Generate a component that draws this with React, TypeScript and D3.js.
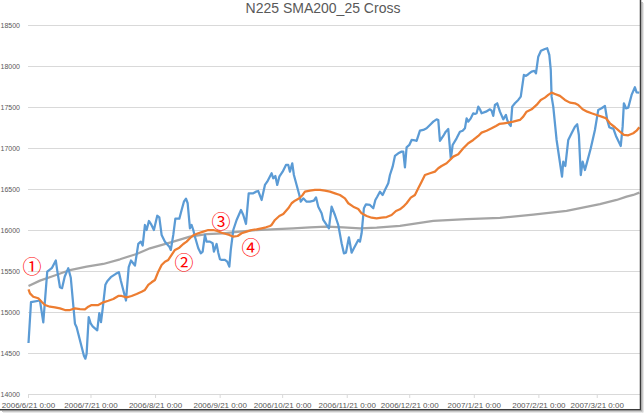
import React from "react";
import * as d3 from "d3";

const W = 644;
const H = 413;

const title = "N225 SMA200_25 Cross";
const yTicks = [14000, 14500, 15000, 15500, 16000, 16500, 17000, 17500, 18000, 18500];
const tickLabels = [
  "2006/6/21 0:00", "2006/7/21 0:00", "2006/8/21 0:00", "2006/9/21 0:00", "2006/10/21 0:00",
  "2006/11/21 0:00", "2006/12/21 0:00", "2007/1/21 0:00", "2007/2/21 0:00", "2007/3/21 0:00",
];
const lastDay = 293.2; // days after 2006/6/21

// day offsets from 2006/6/21 and closing values (blue)
const priceDays = [
  0, 1.2, 5.5, 7.1, 9.0, 11.3, 13.1, 13.8, 15.1, 16.1, 17.4, 19.1, 20.3, 22.3, 23.1, 26.6, 27.3, 27.9, 28.9, 29.9,
  30.8, 33.0, 34.0, 34.8, 35.6, 36.9, 37.8, 39.5, 41.9, 43.4, 44.3, 46.8, 48.1, 49.2, 51.1, 52.7, 53.9, 54.8, 55.9, 56.7,
  57.8, 58.8, 60.2, 61.8, 62.8, 63.9, 65.5, 67.6, 68.3, 69.5, 70.5, 72.4, 73.5, 74.6, 75.6, 76.4, 77.5, 78.3, 79.1, 79.9,
  81.5, 82.7, 83.6, 84.7, 85.5, 87.1, 88.4, 89.0, 90.3, 91.1, 91.9, 92.7, 94.3, 95.4, 96.4, 97.1, 98.3, 99.9, 102.0, 103.1,
  104.4, 105.7, 107.9, 109.2, 110.3, 111.9, 113.5, 114.6, 116.7, 117.5, 118.5, 119.4, 120.4, 122.0, 123.6, 124.7, 125.5, 126.6, 127.4, 128.7,
  130.0, 130.7, 131.9, 133.5, 135.1, 137.0, 138.0, 139.1, 140.7, 141.5, 143.1, 144.2, 145.5, 147.1, 148.7, 150.3, 151.4, 152.4, 153.8, 155.1,
  156.2, 158.3, 159.1, 159.9, 161.0, 162.0, 163.9, 165.5, 166.5, 167.4, 168.7, 170.0, 171.1, 172.7, 173.5, 174.8, 175.9, 177.5, 179.1, 179.9,
  180.7, 181.5, 182.8, 183.9, 185.5, 186.3, 187.9, 189.5, 191.1, 192.7, 194.3, 195.9, 196.7, 197.5, 199.1, 200.3, 201.5, 202.7, 203.1, 203.6,
  205.5, 207.1, 208.4, 209.5, 210.3, 211.1, 212.3, 213.5, 214.3, 215.1, 215.9, 216.7, 217.5, 219.6, 221.5, 222.3, 223.1, 223.9, 225.0, 226.3,
  227.9, 229.2, 229.8, 230.8, 231.5, 232.2, 233.5, 235.1, 236.3, 237.8, 238.8, 239.9, 241.5, 242.8, 243.6, 244.7, 246.0, 247.9, 249.0, 250.0,
  250.7, 251.1, 251.9, 253.5, 254.8, 256.1, 256.7, 257.7, 259.1, 260.7, 262.3, 263.4, 264.2, 265.1, 266.0, 267.1, 268.2, 269.9, 271.9, 273.5,
  275.1, 276.7, 277.8, 278.8, 279.9, 280.7, 282.0, 284.3, 285.2, 285.8, 286.8, 287.9, 289.5, 291.1, 291.9, 293.2,
];
const priceValues = [
  14625, 15123, 15143, 14876, 15496, 15541, 15630, 15508, 15305, 15293, 15435, 15537, 15420, 14860, 14818, 14470, 14434, 14495, 14940, 14860,
  14827, 14779, 14990, 14880, 15042, 15334, 15378, 15427, 15468, 15488, 15387, 15143, 15549, 15630, 15569, 15833, 15861, 15812, 16063, 16002,
  16112, 16075, 16002, 16176, 16157, 15942, 15860, 15799, 15759, 15942, 16140, 16140, 16246, 16347, 16384, 16328, 16023, 16063, 16002, 15920,
  15779, 15718, 15738, 15942, 15860, 15860, 15840, 15738, 15832, 15726, 15645, 15637, 15637, 15616, 15555, 15759, 16002, 16124, 16246, 16185,
  16075, 16449, 16449, 16469, 16477, 16368, 16551, 16591, 16693, 16632, 16660, 16551, 16652, 16713, 16795, 16795, 16713, 16815, 16672, 16551,
  16429, 16347, 16388, 16347, 16347, 16359, 16400, 16286, 16205, 16124, 16063, 16023, 16286, 16185, 16063, 15840, 15718, 15726, 15913, 15726,
  15779, 15880, 15860, 15962, 16267, 16315, 16307, 16267, 16368, 16408, 16469, 16429, 16490, 16571, 16672, 16774, 16904, 16937, 16957, 16957,
  16766, 17010, 17038, 17099, 17095, 17087, 17212, 17221, 17241, 17282, 17322, 17351, 17343, 17087, 17148, 17200, 17233, 16876, 16937, 17038,
  17119, 17200, 17212, 17241, 17363, 17322, 17363, 17424, 17416, 17424, 17505, 17473, 17424, 17444, 17473, 17456, 17392, 17526, 17546, 17444,
  17351, 17404, 17343, 17290, 17270, 17505, 17546, 17587, 17627, 17892, 17880, 17900, 17932, 17940, 17912, 18114, 18187, 18208, 18217, 18135,
  17952, 17627, 17505, 17099, 16876, 16652, 16835, 16782, 17099, 17181, 17261, 17290, 17160, 16672, 16835, 16733, 16835, 16998, 17221, 17465,
  17485, 17513, 17343, 17254, 17241, 17241, 17148, 17026, 17261, 17546, 17485, 17493, 17648, 17741, 17680, 17676,
];

// 25-day moving average (orange)
const sma25Days = [
  0, 0.7, 2.3, 4.7, 6.3, 7.9, 10.3, 12.7, 15.1, 17.5, 19.9, 22.3, 24.7, 27.1, 28.7, 30.3, 33.5, 35.9, 38.3, 40.7,
  43.1, 44.7, 47.1, 49.5, 51.9, 54.3, 55.9, 57.5, 59.1, 60.7, 62.3, 63.9, 65.5, 67.1, 68.7, 70.3, 72.4, 74.3, 75.9, 77.5,
  79.1, 81.5, 83.9, 86.3, 88.7, 90.6, 92.7, 94.8, 96.4, 98.3, 100.4, 102.3, 104.7, 107.1, 109.5, 111.9, 114.0, 115.9, 116.7, 118.3,
  120.4, 122.3, 124.7, 126.3, 127.9, 130.0, 131.6, 132.7, 135.1, 137.5, 139.9, 142.3, 144.7, 147.1, 149.5, 151.9, 153.5, 155.9, 158.3, 159.9,
  162.3, 164.7, 167.1, 169.5, 171.9, 174.3, 176.4, 178.3, 179.9, 181.5, 183.5, 185.5, 187.1, 188.7, 190.3, 192.7, 195.1, 196.7, 198.3, 200.7,
  202.3, 203.9, 206.3, 208.7, 211.1, 213.5, 215.9, 217.5, 219.9, 222.3, 224.4, 226.0, 228.2, 230.3, 232.7, 235.9, 237.5, 239.1, 241.5, 243.9,
  245.9, 247.9, 249.5, 251.1, 252.7, 255.1, 257.5, 259.9, 262.3, 263.9, 266.0, 268.2, 270.3, 272.7, 275.1, 277.2, 279.1, 281.5, 283.9, 285.8,
  287.9, 290.3, 291.9, 293.2,
];
const sma25Values = [
  15279, 15230, 15189, 15170, 15128, 15088, 15067, 15060, 15047, 15027, 15027, 15047, 15039, 15035, 15067, 15088, 15088, 15121, 15140, 15161,
  15198, 15198, 15182, 15198, 15222, 15250, 15271, 15332, 15365, 15393, 15494, 15576, 15616, 15637, 15698, 15759, 15787, 15832, 15860, 15901,
  15938, 15962, 15982, 16002, 16002, 15990, 15969, 15953, 15942, 15921, 15929, 15962, 15982, 16002, 16010, 16023, 16035, 16051, 16063, 16124,
  16173, 16197, 16267, 16328, 16359, 16388, 16429, 16469, 16481, 16490, 16490, 16481, 16469, 16449, 16429, 16388, 16328, 16286, 16258, 16205,
  16173, 16152, 16144, 16152, 16160, 16185, 16234, 16254, 16286, 16328, 16396, 16429, 16510, 16591, 16672, 16693, 16713, 16754, 16782, 16815,
  16855, 16896, 16925, 16998, 17059, 17099, 17148, 17188, 17212, 17241, 17270, 17294, 17302, 17310, 17322, 17343, 17383, 17444, 17473, 17526,
  17587, 17615, 17648, 17676, 17660, 17636, 17587, 17554, 17546, 17526, 17473, 17444, 17424, 17404, 17383, 17363, 17302, 17254, 17200, 17160,
  17156, 17181, 17212, 17254,
];

// 200-day moving average (gray)
const sma200Days = [
  0, 5.5, 11.9, 19.9, 27.9, 35.9, 43.9, 51.9, 58.3, 69.5, 77.5, 85.5, 93.5, 101.5, 109.5, 119.1, 127.1, 135.1, 143.1, 151.1,
  159.1, 167.1, 178.3, 194.3, 210.3, 226.3, 242.3, 258.3, 274.3, 282.3, 287.1, 290.3, 293.2,
];
const sma200Values = [
  15320, 15385, 15441, 15514, 15555, 15588, 15645, 15710, 15779, 15860, 15921, 15953, 15962, 15982, 16002, 16014, 16023, 16035, 16043, 16035,
  16023, 16031, 16051, 16112, 16136, 16150, 16190, 16235, 16318, 16368, 16408, 16429, 16457,
];

const markLabels = ["①", "②", "③", "④"];
const markDays = [1.7, 74.6, 92.4, 106.8];
const markValues = [15570, 15620, 16120, 15795];

const colors = { price: "#5B9BD5", sma25: "#ED7D31", sma200: "#A5A5A5" };

export default function App() {
  const x = d3.scaleLinear().domain([0, lastDay]).range([28.5, 639.3]);
  const y = d3.scaleLinear().domain([14000, 18500]).range([394.3, 25]);
  const start = new Date(2006, 5, 21);
  const tickDays = tickLabels.map((t) => {
    const [datePart] = t.split(" ");
    const [yy, mm, dd] = datePart.split("/").map(Number);
    return Math.round((new Date(yy, mm - 1, dd).getTime() - start.getTime()) / 864e5);
  });

  const line = d3
    .line<[number, number]>()
    .x((d) => x(d[0]))
    .y((d) => y(d[1]));
  const zip = (a: number[], b: number[]) => a.map((v, i) => [v, b[i]] as [number, number]);

  const font = "'Liberation Sans', Arial, sans-serif";

  return (
    <svg width={W} height={H} style={{ position: "absolute", left: 0, top: 0, background: "#fff" }}>
      <rect x={0} y={0} width={W} height={H} fill="#fff" />
      <text x={323} y={13} textAnchor="middle" fontFamily={font} fontSize={14} fill="#595959">
        {title}
      </text>
      {yTicks.map((t) => (
        <g key={t}>
          <line x1={28} x2={640} y1={Math.round(y(t)) + 0.5} y2={Math.round(y(t)) + 0.5} stroke="#D9D9D9" strokeWidth={1} />
          <text x={20} y={y(t) + 2.5} textAnchor="end" fontFamily={font} fontSize={7} fill="#595959">
            {t}
          </text>
        </g>
      ))}
      {tickDays.map((d, i) => (
        <g key={i}>
          <line x1={x(d)} x2={x(d)} y1={394.5} y2={398} stroke="#D9D9D9" strokeWidth={1} />
          <text x={x(d)} y={407.5} textAnchor="middle" fontFamily={font} fontSize={8} fill="#595959">
            {tickLabels[i]}
          </text>
        </g>
      ))}
      <path d={line(zip(sma200Days, sma200Values)) || ""} fill="none" stroke={colors.sma200} strokeWidth={2.25} strokeLinejoin="round" />
      <path d={line(zip(priceDays, priceValues)) || ""} fill="none" stroke={colors.price} strokeWidth={2.25} strokeLinejoin="round" />
      <path d={line(zip(sma25Days, sma25Values)) || ""} fill="none" stroke={colors.sma25} strokeWidth={2.25} strokeLinejoin="round" />
      {markLabels.map((m, i) => (
        <text
          key={m}
          x={x(markDays[i])}
          y={y(markValues[i])}
          textAnchor="middle"
          dominantBaseline="central"
          fontFamily="'Noto Sans CJK JP', 'DejaVu Sans', sans-serif"
          fontSize={19}
          fill="#FF0000"
        >
          {m}
        </text>
      ))}
      {/* screenshot frame shadow */}
      <line x1={640.5} x2={640.5} y1={0} y2={410} stroke="#3a3a3a" strokeWidth={1.5} />
      <line x1={642} x2={642} y1={2} y2={411.5} stroke="#8a8a8a" strokeWidth={1} />
      <line x1={643} x2={643} y1={3} y2={412.5} stroke="#cfcfcf" strokeWidth={1} />
      <line x1={0} x2={641} y1={409.75} y2={409.75} stroke="#3a3a3a" strokeWidth={1.5} />
      <line x1={2} x2={642} y1={411} y2={411} stroke="#8a8a8a" strokeWidth={1} />
      <line x1={3} x2={643} y1={412} y2={412} stroke="#cfcfcf" strokeWidth={1} />
    </svg>
  );
}
